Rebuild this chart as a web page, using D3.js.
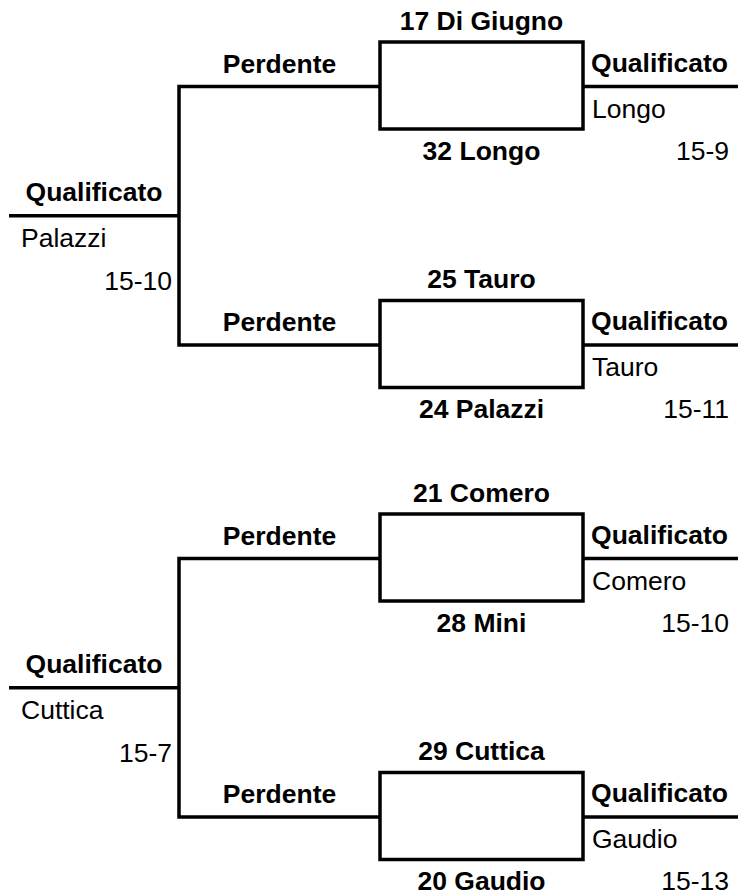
<!DOCTYPE html>
<html>
<head>
<meta charset="utf-8">
<script src="https://cdn.jsdelivr.net/npm/d3@7"></script>
<style>
  body { margin: 0; background: #fff; }
  text { font-family: "Liberation Sans", Arial, sans-serif; font-size: 26.5px; fill: #000; }
  .bold { font-weight: bold; }
</style>
</head>
<body>
<script>
const w = 738;
const h = 895;

// data
const groupWinners = ["Palazzi", "Cuttica"];
const groupScores = ["15-10", "15-7"];
const topSeeds = ["17 Di Giugno", "25 Tauro", "21 Comero", "29 Cuttica"];
const bottomSeeds = ["32 Longo", "24 Palazzi", "28 Mini", "20 Gaudio"];
const matchWinners = ["Longo", "Tauro", "Comero", "Gaudio"];
const matchScores = ["15-9", "15-11", "15-10", "15-13"];
const winLabel = "Qualificato";
const loseLabel = "Perdente";

const svg = d3.select("body")
    .append("svg")
    .attr("width", w)
    .attr("height", h);

// vertical layout: group offset + match slot inside group
const groupY = d3.scaleLinear().domain([0, 1]).range([0, 472]);
const slotY = d3.scaleLinear().domain([0, 1]).range([86.5, 345]);

// horizontal columns
const xLeft = 9, xJoin = 179, xBoxL = 380, xBoxR = 583, xEnd = w;

const matches = topSeeds.map(function(d, i) {
    const g = Math.floor(i / 2);
    return {
        top: d,
        bottom: bottomSeeds[i],
        winner: matchWinners[i],
        score: matchScores[i],
        y: groupY(g) + slotY(i % 2)
    };
});

const groups = groupWinners.map(function(d, g) {
    return {
        winner: d,
        score: groupScores[g],
        y0: groupY(g) + slotY(0),
        y1: groupY(g) + slotY(1)
    };
});

const line = svg.append("g")
    .attr("stroke", "#000")
    .attr("stroke-width", 3.5)
    .attr("fill", "none");

// group connectors
groups.forEach(function(g) {
    const ym = (g.y0 + g.y1) / 2;
    line.append("line")
        .attr("x1", xLeft).attr("x2", xJoin)
        .attr("y1", ym).attr("y2", ym);
    line.append("path")
        .attr("d", "M" + xBoxL + "," + g.y0 + "H" + xJoin + "V" + g.y1 + "H" + xBoxL);

    svg.append("text").attr("class", "bold")
        .attr("x", (xLeft + xJoin) / 2).attr("y", ym - 15)
        .attr("text-anchor", "middle")
        .text(winLabel);
    svg.append("text")
        .attr("x", 21).attr("y", ym + 31)
        .text(g.winner);
    svg.append("text")
        .attr("x", xJoin - 7).attr("y", ym + 74)
        .attr("text-anchor", "end")
        .text(g.score);
});

// match boxes
matches.forEach(function(m) {
    line.append("rect")
        .attr("x", xBoxL).attr("y", m.y - 44.5)
        .attr("width", xBoxR - xBoxL).attr("height", 87);
    line.append("line")
        .attr("x1", xBoxR).attr("x2", xEnd)
        .attr("y1", m.y).attr("y2", m.y);

    svg.append("text").attr("class", "bold")
        .attr("x", (xJoin + xBoxL) / 2).attr("y", m.y - 14)
        .attr("text-anchor", "middle")
        .text(loseLabel);
    svg.append("text").attr("class", "bold")
        .attr("x", (xBoxL + xBoxR) / 2).attr("y", m.y - 57)
        .attr("text-anchor", "middle")
        .text(m.top);
    svg.append("text").attr("class", "bold")
        .attr("x", (xBoxL + xBoxR) / 2).attr("y", m.y + 73)
        .attr("text-anchor", "middle")
        .text(m.bottom);
    svg.append("text").attr("class", "bold")
        .attr("x", 728).attr("y", m.y - 15)
        .attr("text-anchor", "end")
        .text(winLabel);
    svg.append("text")
        .attr("x", xBoxR + 9).attr("y", m.y + 31)
        .text(m.winner);
    svg.append("text")
        .attr("x", 729).attr("y", m.y + 73)
        .attr("text-anchor", "end")
        .text(m.score);
});
</script>
</body>
</html>
